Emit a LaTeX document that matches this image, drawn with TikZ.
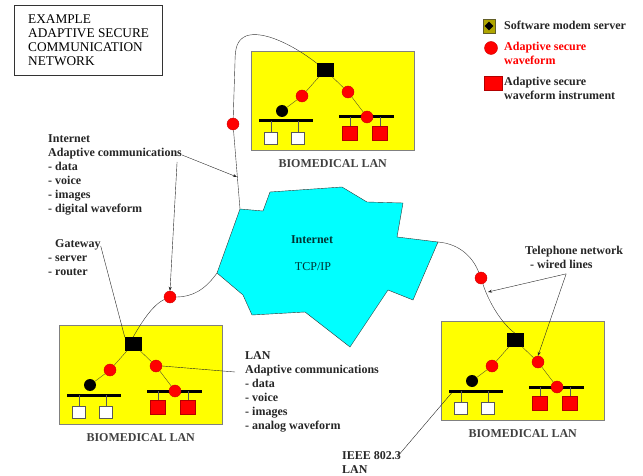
\documentclass[tikz,border=0pt]{standalone}
\usepackage{fontspec}
\setmainfont{Liberation Serif}
\usetikzlibrary{arrows.meta,shapes.geometric}
\definecolor{aqua}{RGB}{0,255,255}
\definecolor{lanyellow}{RGB}{255,255,0}

\begin{document}
\begin{tikzpicture}[x=1pt, y=-1pt]
	\tikzstyle{lanbox} = [ draw=gray, fill=lanyellow, thin, anchor=north west, minimum width=163pt, minimum height=99pt, inner sep=0pt ];
	\tikzstyle{srv} = [ draw=black, fill=black, rectangle, minimum width=16pt, minimum height=13pt, inner sep=0pt ];
	\tikzstyle{wave} = [ draw=red!80!black, fill=red, circle, minimum size=12pt, inner sep=0pt ];
	\tikzstyle{host} = [ fill=black, circle, minimum size=12pt, inner sep=0pt ];
	\tikzstyle{busbar} = [ fill=black, rectangle, minimum height=3pt, inner sep=0pt ];
	\tikzstyle{pc} = [ draw=gray!70!black, fill=white, rectangle, minimum width=13pt, minimum height=12pt, inner sep=0pt ];
	\tikzstyle{inst} = [ draw=red!70!black, fill=red, rectangle, minimum width=15pt, minimum height=14pt, inner sep=0pt ];
	\tikzstyle{link} = [ olive!50!black, thin ];
	\tikzstyle{drop} = [ gray!70!black, thin ];
	\tikzstyle{wire} = [ gray!40!black, thin ];
	\tikzstyle{note} = [ -{Stealth[length=4pt,width=3pt]}, thin, gray!30!black ];
	\tikzstyle{remline} = [ thin, gray!30!black ];
	\tikzstyle{info} = [ font={\fontsize{12}{14}\selectfont\bfseries}, align=left, anchor=north west, inner sep=0pt, text=black!85 ];
	\tikzstyle{lantitle} = [ font={\fontsize{12}{14}\selectfont\bfseries}, text=gray!50!black, inner sep=0pt ];
	\tikzstyle{inetcloud} = [ draw=gray!40!black, thin, fill=aqua ];

	\useasboundingbox (0,0) rectangle (643,476);

	\node[draw=black!80, line width=1.2pt, anchor=north west, minimum width=148pt, minimum height=70pt, align=left,
		font={\fontsize{13.3}{14}\selectfont}] (title) at (14,5) {EXAMPLE\\ADAPTIVE SECURE\\COMMUNICATION\\NETWORK};

	% legend
	\node[draw=olive!60!black, fill=olive!70!yellow, minimum width=12pt, minimum height=14pt, inner sep=0pt] (lg1) at (489,26) {};
	\node[fill=black, diamond, minimum size=9pt, inner sep=0pt] at (lg1) {};
	\node[wave, minimum size=13pt] (lg2) at (491,48) {};
	\node[inst, minimum width=18pt] (lg3) at (493,83) {};
	\node[info] (lgt1) at (504,21) {Software modem server};
	\node[info, text=red] (lgt2) at (504,42) {Adaptive secure\\waveform};
	\node[info] (lgt3) at (504,77) {Adaptive secure\\waveform instrument};

	% cloud
	\def \cloud {240/209, 263/211, 270/192, 342/187, 367/202, 403/203, 397/237, 438/242,
		413/300, 388/290, 350/347, 305/312, 252/315, 243/295, 217/273}
	\foreach \px/\py [count=\ci] in \cloud {
		\coordinate (c\ci) at (\px,\py);
	}
	\draw[inetcloud] (c1) -- (c2) -- (c3) -- (c4) -- (c5) -- (c6) -- (c7) -- (c8) -- (c9) -- (c10)
		-- (c11) -- (c12) -- (c13) -- (c14) -- (c15) -- cycle;
	\node[lantitle, text=teal!40!black] (inet) at (312,240) {Internet};
	\node[lantitle, text=teal!40!black, font={\fontsize{12}{14}\selectfont}] (tcp) at (313,267) {TCP/IP};

	% the three LANs
	\def \lans {t/251/51, l/59/325, r/441/321}
	\foreach \lan/\bx/\by in \lans {
		\begin{scope}[shift={(\bx,\by)}]
			\node[lanbox] (\lan-box) at (0,0) {};
			\node[busbar, minimum width=54pt] (\lan-bus1) at (35,70) {};
			\node[busbar, minimum width=55pt] (\lan-bus2) at (115.5,66) {};
			\node[pc] (\lan-p1) at (20,87) {};
			\node[pc] (\lan-p2) at (47,87) {};
			\node[inst] (\lan-i1) at (99,82) {};
			\node[inst] (\lan-i2) at (129,82) {};
			\draw[drop] (\lan-p1) -- (\lan-p1 |- \lan-bus1);
			\draw[drop] (\lan-p2) -- (\lan-p2 |- \lan-bus1);
			\draw[drop] (\lan-i1) -- (\lan-i1 |- \lan-bus2);
			\draw[drop] (\lan-i2) -- (\lan-i2 |- \lan-bus2);
			\node[srv] (\lan-srv) at (74,19) {};
			\node[wave] (\lan-w1) at (51,45) {};
			\node[wave] (\lan-w2) at (97,41) {};
			\node[host] (\lan-h) at (31,60) {};
			\node[wave] (\lan-w3) at (116,66) {};
			\draw[link] (\lan-srv) -- (\lan-w1) -- (\lan-h);
			\draw[link] (\lan-srv) -- (\lan-w2) -- (\lan-w3);
			\node[lantitle] (\lan-lbl) at ([yshift=-13pt]\lan-box.south) {BIOMEDICAL LAN};
		\end{scope}
	}

	% wires to the internet
	\node[wave] (iw1) at (233,124) {};
	\node[wave] (iw2) at (170,297) {};
	\node[wave] (iw3) at (481,278) {};

	\draw[wire] (t-srv.north west) .. controls (292,44) and (262,30) .. (246,36)
		.. controls (237,40) and (235,48) .. (235,62) -- (iw1);
	\draw[wire] (iw1) -- (c1);
	\draw[wire] (c15) .. controls (205,290) and (192,297) .. (iw2);
	\draw[wire] (iw2) .. controls (152,305) and (140,325) .. (l-srv.north);
	\draw[wire] (c8) .. controls (462,244) and (474,260) .. (iw3);
	\draw[wire] (iw3) .. controls (488,300) and (500,322) .. (r-srv.north);

	% notes
	\node[info] (inote) at (48,134) {Internet\\Adaptive communications\\- data\\- voice\\- images\\- digital waveform};
	\node[info] (gw) at (48,239) {\hspace{7pt}Gateway\\- server\\- router};
	\node[info] (lnote) at (245,351) {LAN\\Adaptive communications\\- data\\- voice\\- images\\- analog waveform};
	\node[info] (ieee) at (342,451) {IEEE 802.3\\LAN};
	\node[info] (tel) at (525,246) {Telephone network\\\hspace{5pt}- wired lines};

	\coordinate (a1) at (237,177);
	\coordinate (tw) at (488,292);
	\coordinate (tp) at ([xshift=-8pt,yshift=-5pt]tel.south);

	\draw[note] ([yshift=-21pt]inote.north east) -- (a1);
	\draw[note] ([xshift=-5pt,yshift=-28pt]inote.north east) -- (iw2.north);
	\draw[remline] ([yshift=-7pt]gw.north east) -- (l-srv.north west);
	\draw[remline] ([xshift=-10pt,yshift=-21pt]lnote.north west) -- (l-w2.east);
	\draw[remline] ([xshift=-4pt,yshift=-6pt]ieee.north east) -- ([xshift=3pt]r-bus1.south west);
	\draw[note] (tp) -- (tw);
	\draw[note] (tp) -- (r-w2.north);
\end{tikzpicture}
\end{document}
